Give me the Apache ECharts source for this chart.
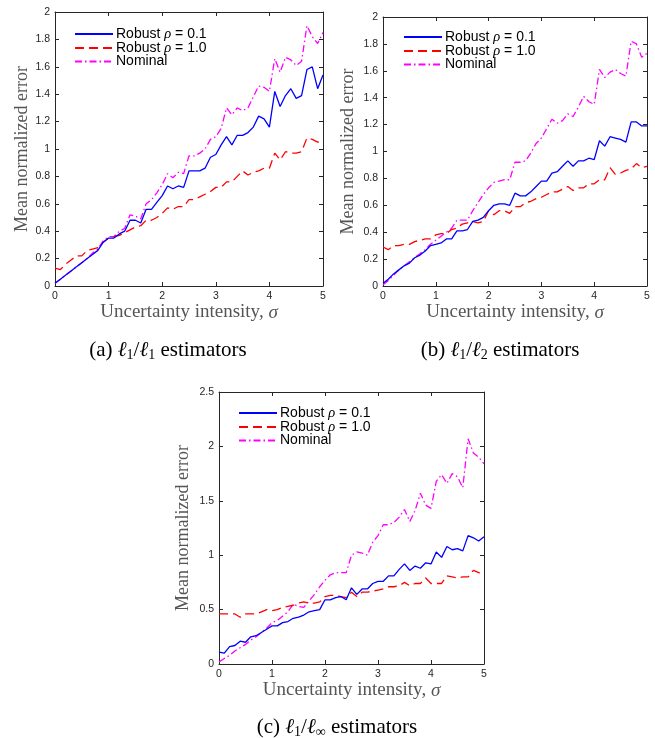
<!DOCTYPE html>
<html>
<head>
<meta charset="utf-8">
<script src="https://cdn.jsdelivr.net/npm/echarts@6/dist/echarts.min.js"></script>
<style>
  html, body { margin: 0; padding: 0; background: #fff; }
  #chart { width: 655px; height: 738px; }
</style>
</head>
<body>
<div id="chart"></div>
<script>
  // sigma grid shared by all three panels
  const sigma = [0, 0.1, 0.2, 0.3, 0.4, 0.5, 0.6, 0.7, 0.8, 0.9, 1.0, 1.1, 1.2, 1.3, 1.4, 1.5, 1.6, 1.7, 1.8, 1.9,
    2.0, 2.1, 2.2, 2.3, 2.4, 2.5, 2.6, 2.7, 2.8, 2.9, 3.0, 3.1, 3.2, 3.3, 3.4, 3.5, 3.6, 3.7, 3.8, 3.9,
    4.0, 4.1, 4.2, 4.3, 4.4, 4.5, 4.6, 4.7, 4.8, 4.9, 5.0];

  const seriesNames = ["Robust ρ = 0.1", "Robust ρ = 1.0", "Nominal"];

  // (a) l1/l1
  const aRobust01 = [0.02, 0.05, 0.08, 0.11, 0.14, 0.17, 0.20, 0.23, 0.26, 0.32, 0.35, 0.35, 0.38, 0.40, 0.48, 0.48, 0.46, 0.56, 0.56, 0.61,
    0.66, 0.73, 0.71, 0.73, 0.72, 0.84, 0.84, 0.84, 0.86, 0.94, 0.96, 1.03, 1.09, 1.03, 1.10, 1.10, 1.12, 1.16, 1.24, 1.22,
    1.16, 1.42, 1.31, 1.39, 1.44, 1.37, 1.39, 1.58, 1.60, 1.44, 1.54];
  const aRobust10 = [0.13, 0.12, 0.16, 0.19, 0.22, 0.22, 0.26, 0.27, 0.28, 0.32, 0.35, 0.36, 0.37, 0.39, 0.41, 0.43, 0.44, 0.48, 0.48, 0.50,
    0.53, 0.57, 0.56, 0.58, 0.58, 0.63, 0.63, 0.65, 0.67, 0.69, 0.72, 0.72, 0.76, 0.76, 0.80, 0.84, 0.81, 0.83, 0.84, 0.86,
    0.86, 0.97, 0.92, 0.98, 0.97, 0.97, 0.98, 1.08, 1.07, 1.05, 1.06];
  const aNominal = [0.02, 0.05, 0.08, 0.11, 0.14, 0.17, 0.20, 0.24, 0.27, 0.33, 0.36, 0.36, 0.40, 0.42, 0.52, 0.51, 0.49, 0.60, 0.63, 0.68,
    0.74, 0.82, 0.79, 0.83, 0.82, 0.95, 0.95, 0.97, 1.00, 1.07, 1.09, 1.15, 1.30, 1.25, 1.30, 1.28, 1.30, 1.38, 1.46, 1.45,
    1.42, 1.66, 1.56, 1.67, 1.65, 1.61, 1.64, 1.90, 1.82, 1.77, 1.85];

  // (b) l1/l2
  const bRobust01 = [0.02, 0.05, 0.09, 0.12, 0.15, 0.17, 0.21, 0.23, 0.26, 0.30, 0.31, 0.32, 0.35, 0.35, 0.41, 0.41, 0.42, 0.48, 0.49, 0.51,
    0.56, 0.60, 0.61, 0.61, 0.60, 0.69, 0.67, 0.67, 0.70, 0.74, 0.78, 0.78, 0.84, 0.85, 0.89, 0.93, 0.89, 0.93, 0.93, 0.95,
    0.94, 1.08, 1.04, 1.11, 1.10, 1.09, 1.07, 1.22, 1.22, 1.19, 1.19];
  const bRobust10 = [0.29, 0.27, 0.30, 0.30, 0.31, 0.31, 0.33, 0.34, 0.35, 0.35, 0.38, 0.39, 0.39, 0.42, 0.43, 0.46, 0.47, 0.48, 0.47, 0.48,
    0.56, 0.53, 0.56, 0.56, 0.54, 0.59, 0.59, 0.62, 0.63, 0.65, 0.66, 0.68, 0.70, 0.70, 0.72, 0.74, 0.71, 0.73, 0.73, 0.76,
    0.76, 0.79, 0.79, 0.88, 0.83, 0.84, 0.86, 0.87, 0.91, 0.88, 0.89];
  const bNominal = [0.01, 0.04, 0.08, 0.12, 0.15, 0.18, 0.21, 0.24, 0.27, 0.31, 0.34, 0.37, 0.40, 0.43, 0.49, 0.49, 0.49, 0.56, 0.62, 0.68,
    0.73, 0.77, 0.78, 0.79, 0.79, 0.92, 0.92, 0.93, 0.99, 1.06, 1.10, 1.17, 1.24, 1.21, 1.23, 1.28, 1.26, 1.33, 1.41, 1.37,
    1.35, 1.61, 1.55, 1.59, 1.61, 1.58, 1.56, 1.82, 1.80, 1.70, 1.73];

  // (c) l1/l-inf
  const cRobust01 = [0.11, 0.10, 0.16, 0.17, 0.21, 0.20, 0.25, 0.26, 0.29, 0.32, 0.35, 0.35, 0.38, 0.39, 0.42, 0.43, 0.45, 0.48, 0.49, 0.50,
    0.59, 0.59, 0.61, 0.62, 0.59, 0.70, 0.64, 0.69, 0.69, 0.74, 0.76, 0.76, 0.81, 0.81, 0.87, 0.92, 0.86, 0.90, 0.88, 0.93,
    0.92, 1.03, 0.98, 1.08, 1.05, 1.06, 1.04, 1.18, 1.16, 1.13, 1.17];
  const cRobust10 = [0.46, 0.46, 0.46, 0.46, 0.43, 0.46, 0.46, 0.46, 0.48, 0.50, 0.49, 0.50, 0.52, 0.53, 0.54, 0.56, 0.57, 0.56, 0.56, 0.57,
    0.62, 0.63, 0.63, 0.62, 0.61, 0.66, 0.62, 0.66, 0.66, 0.67, 0.68, 0.69, 0.71, 0.71, 0.72, 0.75, 0.72, 0.74, 0.74, 0.79,
    0.74, 0.74, 0.74, 0.81, 0.80, 0.79, 0.80, 0.80, 0.86, 0.84, 0.83];
  const cNominal = [0.02, 0.05, 0.08, 0.12, 0.15, 0.18, 0.22, 0.25, 0.29, 0.33, 0.38, 0.40, 0.44, 0.48, 0.55, 0.53, 0.52, 0.58, 0.64, 0.71,
    0.77, 0.82, 0.84, 0.84, 0.84, 1.00, 1.03, 1.02, 1.00, 1.12, 1.18, 1.28, 1.28, 1.30, 1.35, 1.42, 1.31, 1.41, 1.57, 1.46,
    1.43, 1.68, 1.74, 1.66, 1.75, 1.72, 1.62, 2.07, 1.94, 1.90, 1.84];

  const panels = [
    { grid: { left: 55, top: 12, width: 268, height: 274 }, yMax: 2, yStep: 0.2, nameGap: 24,
      data: [aRobust01, aRobust10, aNominal], legend: { left: 74, top: 26.5 } },
    { grid: { left: 383, top: 17, width: 264, height: 269 }, yMax: 2, yStep: 0.2, nameGap: 26,
      data: [bRobust01, bRobust10, bNominal], legend: { left: 403, top: 29.5 } },
    { grid: { left: 219, top: 392, width: 265, height: 272 }, yMax: 2.5, yStep: 0.5, nameGap: 27,
      data: [cRobust01, cRobust10, cNominal], legend: { left: 238, top: 405.5 } },
  ];

  const lineStyles = [
    { color: "#0000ff", type: "solid" },
    { color: "#ff0000", type: [9, 5] },
    { color: "#ff00ff", type: [7, 3, 1.5, 3] },
  ];

  const axisColor = "#262626";
  const serif = "'Liberation Serif', 'DejaVu Serif', serif";
  const sans = "'Liberation Sans', Arial, sans-serif";

  const grids = [];
  const xAxes = [];
  const yAxes = [];
  const series = [];
  const legends = [];

  panels.forEach((p, gi) => {
    grids.push(Object.assign({ containLabel: false }, p.grid));
    const tickCommon = {
      axisLine: { show: true, onZero: false, lineStyle: { color: axisColor, width: 1 } },
      axisTick: { show: true, inside: true, length: 4, lineStyle: { color: axisColor } },
      splitLine: { show: false },
    };
    xAxes.push(Object.assign({
      gridIndex: gi, type: "value", min: 0, max: 5, interval: 1, position: "bottom",
      name: "Uncertainty intensity, {i|σ}", nameLocation: "middle", nameGap: 17,
      nameTextStyle: {
        fontFamily: serif, fontSize: 19, color: "#555",
        rich: { i: { fontFamily: serif, fontStyle: "italic", fontSize: 19, color: "#555" } },
      },
      axisLabel: { fontFamily: sans, fontSize: 10.5, color: axisColor, margin: 5 },
    }, tickCommon));
    xAxes.push(Object.assign({
      gridIndex: gi, type: "value", min: 0, max: 5, interval: 1, position: "top",
      axisLabel: { show: false },
    }, tickCommon));
    yAxes.push(Object.assign({
      gridIndex: gi, type: "value", min: 0, max: p.yMax, interval: p.yStep, position: "left",
      name: "Mean normalized error", nameLocation: "middle", nameGap: p.nameGap,
      nameTextStyle: { fontFamily: serif, fontSize: 18, color: "#555" },
      axisLabel: { fontFamily: sans, fontSize: 10.5, color: axisColor, margin: 5 },
    }, tickCommon));
    yAxes.push(Object.assign({
      gridIndex: gi, type: "value", min: 0, max: p.yMax, interval: p.yStep, position: "right",
      axisLabel: { show: false },
    }, tickCommon));

    p.data.forEach((vals, si) => {
      series.push({
        name: seriesNames[si],
        type: "line",
        xAxisIndex: gi * 2,
        yAxisIndex: gi * 2,
        data: sigma.map((s, i) => [s, vals[i]]),
        symbol: "none",
        lineStyle: { width: 1.3, color: lineStyles[si].color, type: lineStyles[si].type },
        itemStyle: { color: lineStyles[si].color },
        z: 3 - si,
      });
    });

    legends.push({
      left: p.legend.left, top: p.legend.top, orient: "vertical",
      data: seriesNames, itemWidth: 38, itemHeight: 12, itemGap: -1,
      selectedMode: false, padding: 0,
      itemStyle: { opacity: 0 },
      formatter: (name) => name.replace("ρ", "{i|ρ}"),
      textStyle: {
        fontFamily: sans, fontSize: 14, color: "#000", lineHeight: 13.5, padding: [0, 0, 0, -2],
        rich: { i: { fontFamily: serif, fontStyle: "italic", fontSize: 14.5, color: "#000", lineHeight: 13.5 } },
      },
    });
  });

  const capRich = {
    m: { fontFamily: serif, fontSize: 21, color: "#000", lineHeight: 24 },
    l: { fontFamily: serif, fontStyle: "italic", fontSize: 21, color: "#000", lineHeight: 24 },
    s: { fontFamily: serif, fontSize: 14, color: "#000", lineHeight: 8, verticalAlign: "bottom" },
  };
  function caption(text, cx, cy) {
    return {
      type: "text", x: cx, y: cy,
      style: { text: text, rich: capRich, fill: "#000", align: "center", verticalAlign: "middle" },
    };
  }

  const chart = echarts.init(document.getElementById("chart"), null, { renderer: "canvas" });
  chart.setOption({
    animation: false,
    backgroundColor: "#fff",
    grid: grids,
    xAxis: xAxes,
    yAxis: yAxes,
    legend: legends,
    series: series,
    graphic: [
      caption("{m|(a) }{l|ℓ}{s|1}{m|/}{l|ℓ}{s|1}{m| estimators}", 168, 350),
      caption("{m|(b) }{l|ℓ}{s|1}{m|/}{l|ℓ}{s|2}{m| estimators}", 500, 350),
      caption("{m|(c) }{l|ℓ}{s|1}{m|/}{l|ℓ}{s|∞}{m| estimators}", 337, 727),
    ],
  });
</script>
</body>
</html>
